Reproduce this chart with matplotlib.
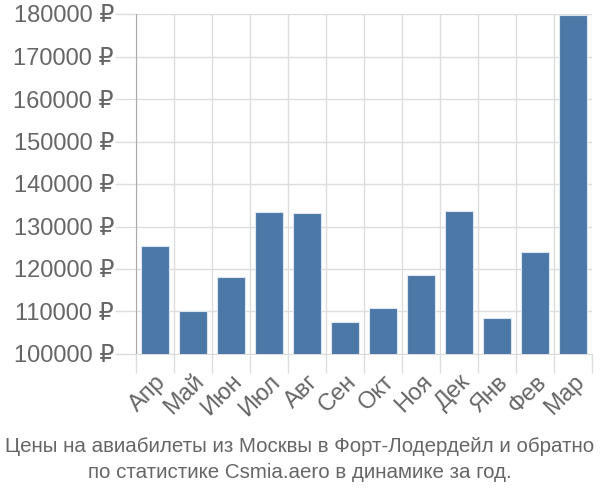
import matplotlib.pyplot as plt
import numpy as np

plt.rcParams['font.family'] = ['Liberation Sans', 'DejaVu Sans']

# данные
months = ["Апр", "Май", "Июн", "Июл", "Авг", "Сен", "Окт", "Ноя", "Дек", "Янв", "Фев", "Мар"]
prices = [125300, 110000, 118000, 133400, 133200, 107500, 110800, 118700, 133600, 108500, 124000, 179800]
yticks = [100000, 110000, 120000, 130000, 140000, 150000, 160000, 170000, 180000]
title = "Цены на авиабилеты из Москвы в Форт-Лодердейл и обратно\nпо статистике Csmia.aero в динамике за год."

fig = plt.figure(figsize=(6, 5), dpi=100)
ax = fig.add_axes([0.227, 0.292, 0.760, 0.680])

x = np.arange(len(months))
ax.bar(x, prices, width=0.74, color="#4c78a8", edgecolor="#dde6f0", linewidth=0.8, zorder=3)

ax.set_xlim(-0.5, len(months) - 0.5)
ax.set_ylim(100000, 180000)

# сетка
ax.set_yticks(yticks)
ax.set_yticklabels(["%d ₽" % v for v in yticks])
ax.set_xticks(x)
ax.set_xticklabels(months, rotation=45, ha="right", va="top", rotation_mode="anchor")
ax.set_xticks(np.arange(-0.5, len(months)), minor=True)
ax.grid(axis="y", color="#dddddd", linewidth=1, zorder=0)
ax.grid(axis="x", which="minor", color="#dddddd", linewidth=1, zorder=0)
ax.tick_params(axis="y", length=15, color="#dddddd", width=1, labelsize=17, labelcolor="#666666", pad=1)
ax.tick_params(axis="x", which="major", length=0, labelsize=17, labelcolor="#666666", pad=12)
ax.tick_params(axis="x", which="minor", length=14, color="#dddddd", width=1)

for s in ["top", "right"]:
    ax.spines[s].set_visible(False)
ax.spines["bottom"].set_color("#dddddd")
ax.spines["left"].set_color("#aaaaaa")
ax.spines["left"].set_bounds(100000, 180000)

fig.text(0.5, 0.081, title, ha="center", va="center", fontsize=14.8, color="#666666",
         linespacing=1.45)

fig.savefig("out.png", dpi=100)
